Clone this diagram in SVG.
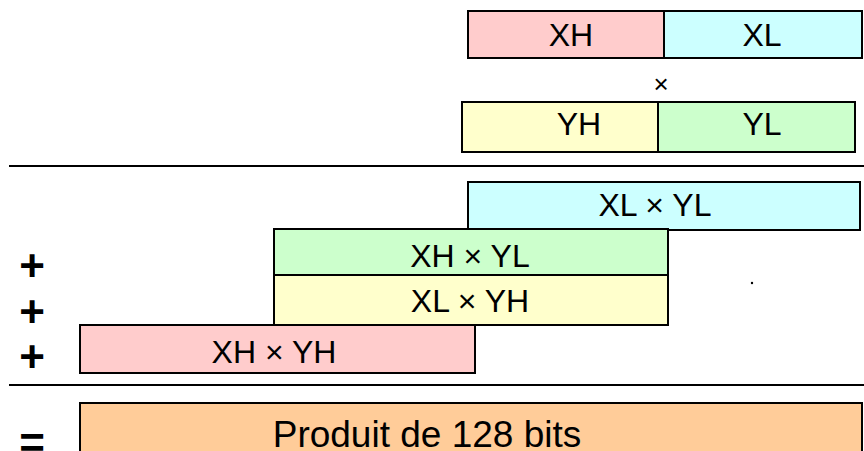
<svg xmlns="http://www.w3.org/2000/svg" width="864" height="451" viewBox="0 0 864 451">
<style>
.b{stroke:#000;stroke-width:2}
.t{font-family:"Liberation Sans",Arial,sans-serif;font-size:32px;fill:#000;text-anchor:middle}
.op{font-family:"Liberation Sans",Arial,sans-serif;font-size:44px;font-weight:bold;fill:#000;text-anchor:middle}
.pk{fill:#FFCCCC}.cy{fill:#CCFFFF}.ye{fill:#FFFFCC}.gr{fill:#CCFFCC}.or{fill:#FFCC99}
</style>
<rect width="864" height="451" fill="#fff"/>
<g id="XH"><rect class="b pk" x="468" y="11" width="196" height="47"/><text class="t" x="571" y="46">XH</text></g>
<g id="XL"><rect class="b cy" x="664" y="11" width="198" height="47"/><text class="t" x="762" y="46">XL</text></g>
<g id="times"><text class="t" x="661" y="93" style="font-size:26px">×</text></g>
<g id="YH"><rect class="b ye" x="462" y="102" width="196" height="50"/><text class="t" x="579" y="135">YH</text></g>
<g id="YL"><rect class="b gr" x="658" y="102" width="197" height="50"/><text class="t" x="762" y="135">YL</text></g>
<g id="lines">
<line class="b" x1="9" y1="166" x2="864" y2="166"/>
<line class="b" x1="9" y1="385" x2="864" y2="385"/>
</g>
<g id="XLYL"><rect class="b cy" x="468" y="182" width="392" height="48"/><text class="t" x="655" y="216">XL × YL</text></g>
<g id="XHYL"><rect class="b gr" x="274" y="229" width="394" height="46"/><text class="t" x="470" y="267">XH × YL</text></g>
<g id="XLYH"><rect class="b ye" x="274" y="275" width="394" height="50"/><text class="t" x="470" y="312">XL × YH</text></g>
<g id="XHYH"><rect class="b pk" x="80" y="325" width="395" height="48"/><text class="t" x="274" y="363">XH × YH</text></g>
<g id="product"><rect class="b or" x="80" y="403" width="782" height="60"/><text class="t" x="427" y="447" style="font-size:37px">Produit de 128 bits</text></g>
<g id="ops">
<text class="op" x="32" y="281">+</text>
<text class="op" x="32" y="327">+</text>
<text class="op" x="32" y="372">+</text>
<text class="op" x="32" y="458">=</text>
</g>
<circle cx="752" cy="283" r="1.2" fill="#000"/>
</svg>
